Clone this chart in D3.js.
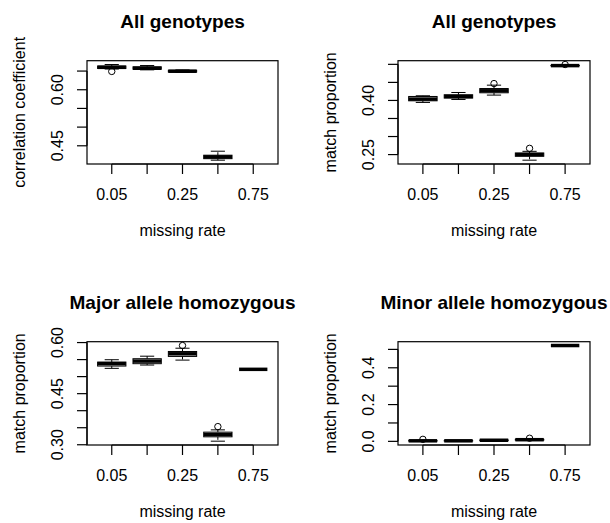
<!DOCTYPE html>
<html>
<head>
<meta charset="utf-8">
<script src="https://cdn.jsdelivr.net/npm/d3@7"></script>
<style>
  body { margin: 0; background: #fff; }
  svg text { font-family: "Liberation Sans", Arial, Helvetica, sans-serif; fill: #000; }
</style>
</head>
<body>
<div id="chart"></div>
<script>
// missing rate categories (labels 2 and 4 are hidden by R's overlap rule)
const categories = ["0.05", "0.1", "0.25", "0.5", "0.75"];
const xLabelsShown = ["0.05", "0.25", "0.75"];

// box stats per category: [lower whisker, Q1, median, Q3, upper whisker]
const allCorStats = [
    [0.6555, 0.657, 0.660, 0.6635, 0.6675],
    [0.6533, 0.655, 0.6576, 0.6613, 0.6648],
    [0.6465, 0.6475, 0.6496, 0.652, 0.653],
    [0.4115, 0.4155, 0.4203, 0.4248, 0.4355],
    null
];
const allCorOutliers = [[0.649], [], [], [], []];
const allCorLabels = ["0.60", "0.45"];

const allMatchStats = [
    [0.3945, 0.399, 0.4038, 0.411, 0.4129],
    [0.4027, 0.4066, 0.411, 0.4157, 0.422],
    [0.4148, 0.4212, 0.4267, 0.433, 0.4423],
    [0.2345, 0.2453, 0.25, 0.2544, 0.259],
    [0.4958, 0.4962, 0.4965, 0.4968, 0.4972]
];
const allMatchOutliers = [[], [], [0.4467], [0.2673], [0.4995]];
const allMatchLabels = ["0.40", "0.25"];

const majorStats = [
    [0.5243, 0.531, 0.538, 0.5427, 0.5496],
    [0.534, 0.538, 0.5456, 0.5526, 0.560],
    [0.5485, 0.5593, 0.567, 0.5738, 0.5834],
    [0.3105, 0.3233, 0.330, 0.337, 0.3437],
    [0.5214, 0.5214, 0.5214, 0.5214, 0.5214]
];
const majorOutliers = [[], [], [0.5913], [0.3533], []];
const majorLabels = ["0.60", "0.45", "0.30"];

const minorStats = [
    [0.001, 0.002, 0.003, 0.004, 0.006],
    [0.001, 0.002, 0.003, 0.004, 0.005],
    [0.004, 0.005, 0.006, 0.007, 0.008],
    [0.005, 0.007, 0.009, 0.011, 0.013],
    [0.521, 0.521, 0.521, 0.521, 0.521]
];
const minorOutliers = [[0.011], [], [], [0.017], []];
const minorLabels = ["0.0", "0.2", "0.4"];

const panels = [
    { title: "All genotypes", ylab: "correlation coefficient", stats: allCorStats, out: allCorOutliers, labels: allCorLabels, fmt: ".2f",
      left: 87, right: 278, top: 60.7, bottom: 164 },
    { title: "All genotypes", ylab: "match proportion", stats: allMatchStats, out: allMatchOutliers, labels: allMatchLabels, fmt: ".2f",
      left: 398, right: 590, top: 60.7, bottom: 164 },
    { title: "Major allele homozygous", ylab: "match proportion", stats: majorStats, out: majorOutliers, labels: majorLabels, fmt: ".2f",
      left: 87, right: 278, top: 341.7, bottom: 445 },
    { title: "Minor allele homozygous", ylab: "match proportion", stats: minorStats, out: minorOutliers, labels: minorLabels, fmt: ".1f",
      left: 398, right: 590, top: 341.7, bottom: 445 }
];

const svg = d3.select("#chart").append("svg")
    .attr("width", 610)
    .attr("height", 523);

function drawPanel(p) {
    const g = svg.append("g");

    // x: R boxplot uses xlim c(0.5, n + 0.5) with 4% extension
    const n = categories.length;
    const x = d3.scaleLinear()
        .domain([0.5 - 0.04 * n, n + 0.5 + 0.04 * n])
        .range([p.left, p.right]);

    // y: data range + 4% each side
    const vals = [];
    p.stats.forEach(s => { if (s) vals.push(...s); });
    p.out.forEach(o => vals.push(...o));
    const ext = d3.extent(vals);
    const pad = (ext[1] - ext[0]) * 0.04;
    const y = d3.scaleLinear()
        .domain([ext[0] - pad, ext[1] + pad])
        .range([p.bottom, p.top]);

    const boxW = x(1.4) - x(1);
    const stapleW = x(1.2) - x(1);

    p.stats.forEach((s, i) => {
        if (!s) return;
        const cx = x(i + 1);
        // whiskers (dashed)
        g.append("line")
            .attr("x1", cx).attr("x2", cx)
            .attr("y1", y(s[3])).attr("y2", y(s[4]))
            .attr("stroke", "#000").attr("stroke-dasharray", "3,3");
        g.append("line")
            .attr("x1", cx).attr("x2", cx)
            .attr("y1", y(s[1])).attr("y2", y(s[0]))
            .attr("stroke", "#000").attr("stroke-dasharray", "3,3");
        // staples
        [s[0], s[4]].forEach(v => {
            g.append("line")
                .attr("x1", cx - stapleW).attr("x2", cx + stapleW)
                .attr("y1", y(v)).attr("y2", y(v))
                .attr("stroke", "#000").attr("stroke-width", 1);
        });
        // box
        g.append("rect")
            .attr("x", cx - boxW).attr("width", boxW * 2)
            .attr("y", y(s[3])).attr("height", Math.max(0, y(s[1]) - y(s[3])))
            .attr("fill", "none").attr("stroke", "#000").attr("stroke-width", 1);
        // median
        g.append("line")
            .attr("x1", cx - boxW).attr("x2", cx + boxW)
            .attr("y1", y(s[2])).attr("y2", y(s[2]))
            .attr("stroke", "#000").attr("stroke-width", 3.5);
    });

    // outliers
    p.out.forEach((o, i) => {
        o.forEach(v => {
            g.append("circle")
                .attr("cx", x(i + 1)).attr("cy", y(v)).attr("r", 3.2)
                .attr("fill", "none").attr("stroke", "#000").attr("stroke-width", 1);
        });
    });

    // frame
    g.append("rect")
        .attr("x", p.left).attr("y", p.top)
        .attr("width", p.right - p.left).attr("height", p.bottom - p.top)
        .attr("fill", "none").attr("stroke", "#000").attr("stroke-width", 1.2);

    // x axis
    const xt = d3.range(1, n + 1);
    g.append("line")
        .attr("x1", x(1)).attr("x2", x(n))
        .attr("y1", p.bottom).attr("y2", p.bottom)
        .attr("stroke", "#000").attr("stroke-width", 1.2);
    xt.forEach((t, i) => {
        g.append("line")
            .attr("x1", x(t)).attr("x2", x(t))
            .attr("y1", p.bottom).attr("y2", p.bottom + 10)
            .attr("stroke", "#000").attr("stroke-width", 1.2);
        if (xLabelsShown.includes(categories[i])) {
            g.append("text")
                .attr("x", x(t)).attr("y", p.bottom + 35.5)
                .attr("text-anchor", "middle")
                .style("font-size", "16px")
                .text(categories[i]);
        }
    });

    // y axis
    const yt = y.ticks(5);
    const f = d3.format(p.fmt);
    g.append("line")
        .attr("x1", p.left).attr("x2", p.left)
        .attr("y1", y(yt[0])).attr("y2", y(yt[yt.length - 1]))
        .attr("stroke", "#000").attr("stroke-width", 1.2);
    yt.forEach(t => {
        g.append("line")
            .attr("x1", p.left - 10).attr("x2", p.left)
            .attr("y1", y(t)).attr("y2", y(t))
            .attr("stroke", "#000").attr("stroke-width", 1.2);
        if (p.labels.includes(f(t))) {
            g.append("text")
                .attr("transform", `translate(${p.left - 24},${y(t)}) rotate(-90)`)
                .attr("text-anchor", "middle")
                .style("font-size", "16px")
                .text(f(t));
        }
    });

    // titles
    const cx = (p.left + p.right) / 2;
    const cy = (p.top + p.bottom) / 2;
    g.append("text")
        .attr("x", cx).attr("y", p.top - 32.5)
        .attr("text-anchor", "middle")
        .style("font-size", "19px").style("font-weight", "bold")
        .text(p.title);
    g.append("text")
        .attr("x", cx).attr("y", p.bottom + 71.5)
        .attr("text-anchor", "middle")
        .style("font-size", "16px")
        .text("missing rate");
    g.append("text")
        .attr("transform", `translate(${p.left - 62.5},${cy}) rotate(-90)`)
        .attr("text-anchor", "middle")
        .style("font-size", "16px")
        .text(p.ylab);
}

panels.forEach(drawPanel);
</script>
</body>
</html>
